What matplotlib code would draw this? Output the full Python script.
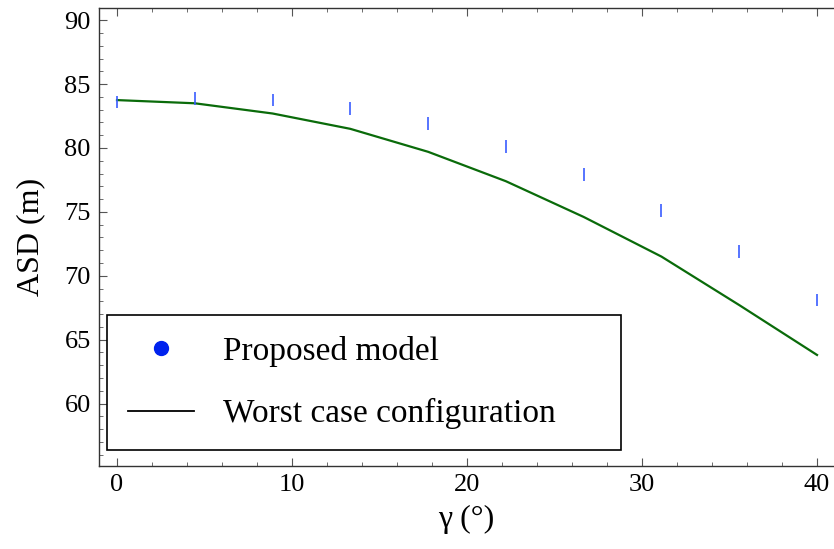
import numpy as np
import matplotlib
matplotlib.use('Agg')
import matplotlib.pyplot as plt
from matplotlib.lines import Line2D
from matplotlib.ticker import MultipleLocator

plt.rcParams['font.family'] = ['Liberation Serif', 'DejaVu Serif']

# data
gamma = [0, 4.44, 8.89, 13.33, 17.78, 22.22, 26.67, 31.11, 35.56, 40.0]
asd_model = [83.6, 83.9, 83.75, 83.1, 81.9, 80.1, 77.9, 75.1, 71.9, 68.1]
asd_worst = [83.75, 83.5, 82.7, 81.5, 79.7, 77.4, 74.6, 71.5, 67.7, 63.8]
bar_half = 0.5

fig = plt.figure(figsize=(8.34, 5.49), dpi=100)
ax = fig.add_axes([0.1187, 0.151, 0.8813, 0.834])

ax.plot(gamma, asd_worst, color='#0a6b0a', lw=1.6)
ax.errorbar(gamma, asd_model, yerr=bar_half, fmt='none', ecolor='#3a5cff', elinewidth=1.2, capsize=0)

ax.set_xlim(-1.03, 40.97)
ax.set_ylim(55.1, 90.94)
ax.xaxis.set_major_locator(MultipleLocator(10))
ax.xaxis.set_minor_locator(MultipleLocator(2))
ax.yaxis.set_major_locator(MultipleLocator(5))
ax.yaxis.set_minor_locator(MultipleLocator(1))
ax.tick_params(which='both', direction='in', color='#555555', labelsize=19,
               top=True, right=False, pad=6)
ax.tick_params(which='major', length=6)
ax.tick_params(which='minor', length=3)
ax.spines['right'].set_visible(False)
for s in ax.spines.values():
    s.set_color('#333333')
    s.set_linewidth(1.0)
ax.set_xlabel('γ (°)', fontsize=23, labelpad=6)
ax.set_ylabel('ASD (m)', fontsize=23, labelpad=14)

handles = [Line2D([], [], ls='none', marker='o', color='#0022ee', markersize=10),
           Line2D([], [], color='black', lw=1.3)]
leg = ax.legend(handles, ['Proposed model', 'Worst case configuration'],
                loc='lower left', bbox_to_anchor=(0.011, 0.035, 0.699, 0.3),
                mode='expand', borderaxespad=0,
                fontsize=24, fancybox=False, framealpha=1, edgecolor='black',
                handlelength=2.0, handletextpad=0.85, borderpad=0.62, labelspacing=0.95)
leg.get_frame().set_linewidth(1.2)

fig.savefig('out.png', dpi=100)
